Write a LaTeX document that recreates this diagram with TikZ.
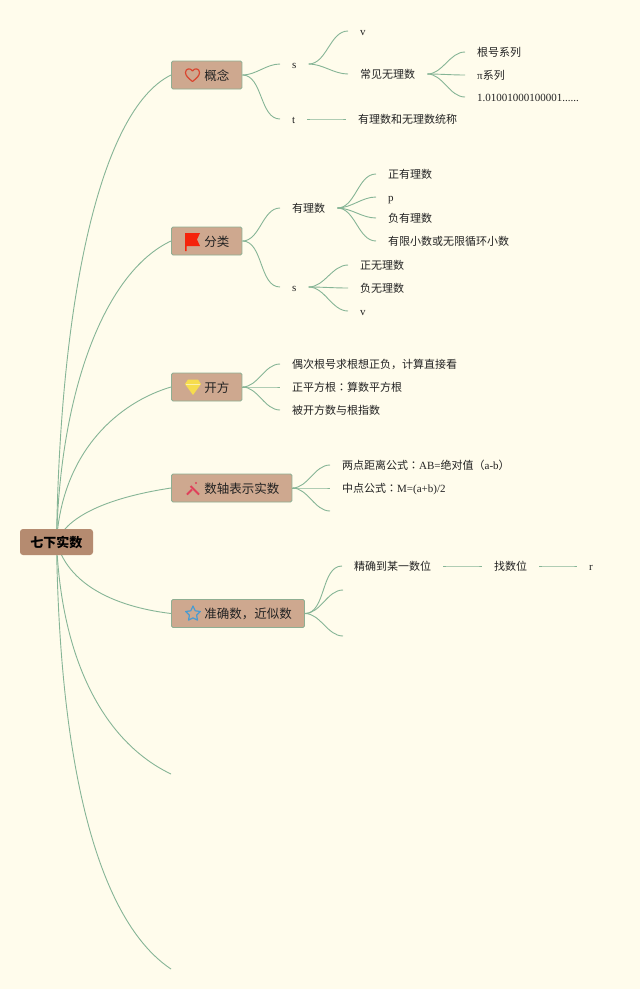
\documentclass[tikz,border=0pt]{standalone}
\usepackage{fontspec}
\setmainfont{Liberation Serif}
\newfontfamily\cjk{Noto Sans CJK SC}
\newfontfamily\cjktc{Noto Sans CJK TC}
\definecolor{paper}{HTML}{FFFCEC}
\definecolor{wire}{HTML}{86B596}
\definecolor{mainfill}{HTML}{CEA88F}
\definecolor{mainedge}{HTML}{8FAE92}
\definecolor{rootfill}{HTML}{B58B70}
\definecolor{ink}{HTML}{222222}
\definecolor{heartred}{HTML}{D9452F}
\definecolor{flagred}{HTML}{F5230B}
\definecolor{gemyellow}{HTML}{F6DC4E}
\definecolor{toolred}{HTML}{E0405A}
\definecolor{starblue}{HTML}{4A9BD0}
\pgfdeclarelayer{paperlayer}
\pgfdeclarelayer{wirelayer}
\pgfsetlayers{paperlayer,wirelayer,main}
\newcommand{\tpad}[1]{\hspace*{33pt}#1\hspace*{12.5pt}}
\tikzset{
  x=1pt,y=-1pt,
  leaf/.style={anchor=west,inner xsep=12pt,inner ysep=0pt,text height=12pt,text depth=2.5pt,
    text=ink,font=\fontsize{11}{13}\selectfont\cjk},
  lat/.style={font=\fontsize{11}{13}\selectfont\rmfamily},
  topic/.style={anchor=west,draw=mainedge,line width=0.9pt,fill=mainfill,rounded corners=1.5pt,
    minimum height=28pt,inner ysep=0pt,inner xsep=0pt,text height=12.5pt,text depth=2.5pt,text=ink,
    font=\fontsize{12.5}{14}\selectfont\cjk},
  rootbox/.style={fill=rootfill,rounded corners=3pt,minimum width=73pt,minimum height=26pt,inner sep=0pt,
    text=black,font=\fontsize{13}{15}\selectfont\cjk\bfseries},
  wirel/.style={draw=wire,line width=0.9pt},
  curve/.style={out=0,in=180,looseness=0.9},
}
\begin{document}
\begin{tikzpicture}
\useasboundingbox (0,0) rectangle (640,989);
\begin{pgfonlayer}{paperlayer}
\fill[paper] (0,0) rectangle (640,989);
\end{pgfonlayer}

% root and topics
\node[rootbox] (root) at (56.5,542) {七下实数};
\node[topic] (gn) at (171,75) {\tpad{概念}};
\node[topic] (fl) at (171,241) {\tpad{分类}};
\node[topic] (kf) at (171,387) {\tpad{开方}};
\node[topic] (zz) at (171,488) {\tpad{数轴表示实数}};
\node[topic] (js) at (171,613.5) {\tpad{准确数，近似数}};
\coordinate (endA) at (171,774);
\coordinate (endB) at (171,969);

% concept
\node[leaf,lat] (gs) at (280,64) {s};
\node[leaf,lat] (gt) at (280,119) {t};
\node[leaf,lat] (gv) at (348,31) {v};
\node[leaf] (gc) at (348,74) {常见无理数};
\node[leaf] (g1) at (465,52) {根号系列};
\node[leaf] (g2) at (465,75) {{\rmfamily π}系列};
\node[leaf,lat] (g3) at (465,97) {1.01001000100001......};
\node[leaf] (gd) at (346,119) {有理数和无理数统称};

% classification
\node[leaf] (fr) at (280,208) {有理数};
\node[leaf,lat] (fs) at (280,287) {s};
\node[leaf] (f1) at (376,174) {正有理数};
\node[leaf,lat] (f2) at (376,197) {p};
\node[leaf] (f3) at (376,218) {负有理数};
\node[leaf] (f4) at (376,241) {有限小数或无限循环小数};
\node[leaf] (f5) at (348,265) {正无理数};
\node[leaf] (f6) at (348,288) {负无理数};
\node[leaf,lat] (f7) at (348,311) {v};

% roots
\node[leaf] (k1) at (280,364) {偶次根号求根想正负，计算直接看};
\node[leaf] (k2) at (280,387) {正平方根{\cjktc ：}算数平方根};
\node[leaf] (k3) at (280,410) {被开方数与根指数};

% number line
\node[leaf] (z1) at (330,465) {两点距离公式{\cjktc ：}{\rmfamily AB=}绝对值（{\rmfamily a-b}）};
\node[leaf] (z2) at (330,488) {中点公式{\cjktc ：}{\rmfamily M=(a+b)/2}};
\coordinate (z3) at (330,511);

% rounding
\node[leaf] (j1) at (342,566) {精确到某一数位};
\coordinate (j2) at (343,590);
\coordinate (j3) at (343,636);
\node[leaf] (j4) at (482,566) {找数位};
\node[leaf,lat] (j5) at (577,566) {r};

\begin{pgfonlayer}{wirelayer}
\begin{scope}[wirel]
% trunk curves
\draw (root.center) .. controls (60,300) and (100,110) .. (gn.west);
\draw (root.center) .. controls (60,390) and (105,272) .. (fl.west);
\draw (root.center) .. controls (62,450) and (120,402) .. (kf.west);
\draw (root.center) .. controls (70,510) and (125,495) .. (zz.west);
\draw (root.center) .. controls (70,590) and (125,608) .. (js.west);
\draw (root.center) .. controls (62,670) and (110,745) .. (endA);
\draw (root.center) .. controls (60,790) and (105,925) .. (endB);
% branches
\foreach \a/\b in {gn/gs,gn/gt,gs/gv,gs/gc,gc/g1,gc/g2,gc/g3,gt/gd,
                   fl/fr,fl/fs,fr/f1,fr/f2,fr/f3,fr/f4,fs/f5,fs/f6,fs/f7,
                   kf/k1,kf/k2,kf/k3,zz/z1,zz/z2,js/j1,j1/j4,j4/j5}
  \draw (\a.east) to[curve] (\b.west);
\draw (zz.east) to[curve] (z3);
\draw (js.east) to[curve] (j2);
\draw (js.east) to[curve] (j3);
\end{scope}
\end{pgfonlayer}

% icons
\draw[draw=heartred,line width=1.2pt,line join=round]
  (192.5,81.5) .. controls (188,78) and (185.5,75.5) .. (185.5,72.5)
  .. controls (185.5,68.5) and (190.5,67.5) .. (192.5,71)
  .. controls (194.5,67.5) and (199.5,68.5) .. (199.5,72.5)
  .. controls (199.5,75.5) and (197,78) .. (192.5,81.5) -- cycle;
\fill[flagred] (185,233) -- (200,233) -- (197,239.5) -- (200,246) -- (186.5,246) -- (186.5,251) -- (185,251) -- cycle;
\fill[gemyellow] (188,379.5) -- (198,379.5) -- (201,384) -- (193,395) -- (185,384) -- cycle;
\draw[paper!60!gemyellow,line width=0.4pt] (186,384.5) -- (200,384.5);
\draw[toolred,line width=1.8pt] (187,494.5) -- (192,489.5);
\draw[toolred,line width=1.8pt] (190.5,486) -- (199,494.5);
\fill[toolred] (196,483) circle (1.2pt);
\draw[draw=starblue,line width=1.2pt,line join=round]
  (193,606) -- (195.2,610.8) -- (200.3,611.5) -- (196.6,615.1) -- (197.5,620.2)
  -- (193,617.8) -- (188.5,620.2) -- (189.4,615.1) -- (185.7,611.5) -- (190.8,610.8) -- cycle;
\end{tikzpicture}
\end{document}
